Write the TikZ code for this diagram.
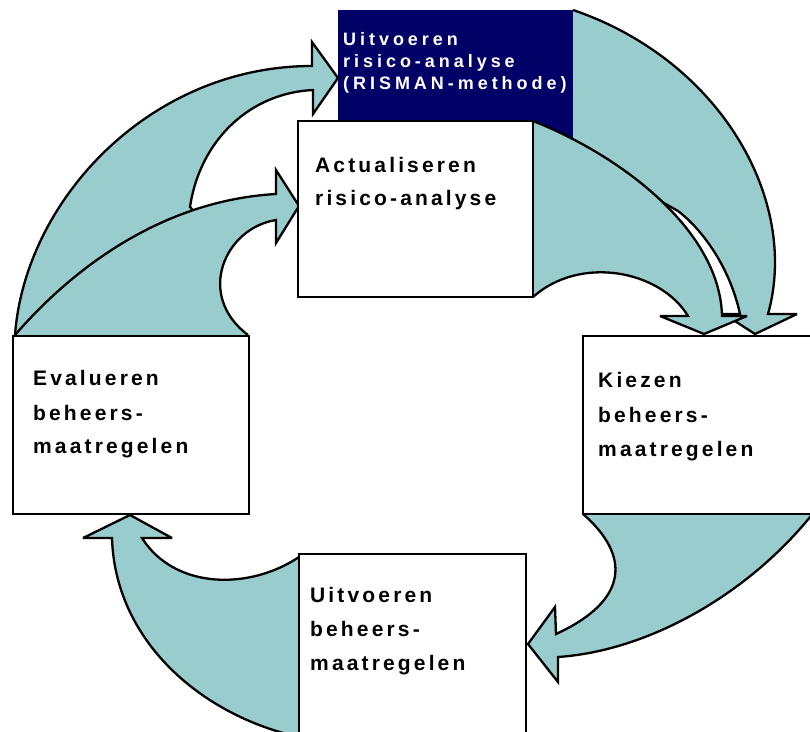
\documentclass[tikz,border=0pt]{standalone}
\usepackage{fontspec}
\setmainfont{Liberation Sans}[LetterSpace=15]
\newfontfamily\navyfont{Liberation Sans}[LetterSpace=22]
\definecolor{arrowteal}{HTML}{99CCCC}
\definecolor{risnavy}{HTML}{000066}
\begin{document}
\begin{tikzpicture}[x=1pt,y=-1pt,
  arrowshape/.style={fill=arrowteal,draw=black,line width=2.3pt,line join=miter,miter limit=4},
  whitebox/.style={draw=black,fill=white,line width=2.8pt,anchor=north west,inner sep=0pt,outer sep=0pt},
  navybox/.style={fill=risnavy,anchor=north west,inner sep=0pt,outer sep=0pt},
  lbl/.style={anchor=base west,inner sep=0pt,font=\fontsize{21}{23}\selectfont\bfseries},
  navylbl/.style={anchor=base west,inner sep=0pt,text=white,font=\navyfont\fontsize{18}{20}\selectfont\bfseries}]
\useasboundingbox (0,0) rectangle (810,731);
\fill[white] (0,0) rectangle (810,731);
\begin{scope}
\clip (0,0) rectangle (810,731);
% navy box (behind)
\node[navybox,minimum width=235,minimum height=132] (risman) at (338,10) {};
% arrow from navy box to Kiezen
\filldraw[arrowshape] (573,10) .. controls (720,60) and (800,200) .. (768,314)
  -- (797,314) -- (755,334) -- (724,314) -- (740,314)
  .. controls (730,268) and (703,230) .. (678,211) -- (620,178) -- (573,142);
% arrow from Actualiseren to Kiezen
\filldraw[arrowshape] (533,297) .. controls (580,255) and (660,270) .. (688,316)
  -- (660,316) -- (704,334) -- (747,316) -- (722,316)
  .. controls (720,230) and (620,155) .. (533,121);
% arrow from Evalueren to navy box
\filldraw[arrowshape] (15,335) .. controls (25,200) and (150,66) .. (312,66)
  -- (312,42) -- (338,78) -- (313,114) -- (313,90)
  .. controls (250,93) and (200,140) .. (190,207) -- (200,218);
% arrow from Evalueren to Actualiseren
\filldraw[arrowshape] (15,335) .. controls (80,260) and (170,200) .. (276,194)
  -- (276,170) -- (299,206) -- (276,243) -- (276,220)
  .. controls (225,228) and (195,295) .. (248,335);
% arrow from Kiezen to Uitvoeren beheersmaatregelen
\filldraw[arrowshape] (583,514) .. controls (630,555) and (630,600) .. (556,634)
  -- (555,607) -- (528,644) -- (558,682) -- (558,657)
  .. controls (660,650) and (770,580) .. (830,490) -- (830,514);
% arrow from Uitvoeren beheersmaatregelen to Evalueren
\filldraw[arrowshape] (299,557) .. controls (250,590) and (175,590) .. (142,538)
  -- (172,538) -- (130,515) -- (83,538) -- (112,538)
  .. controls (115,640) and (200,715) .. (299,737);
% white boxes
\node[whitebox,minimum width=235,minimum height=176] (act) at (298,121) {};
\node[whitebox,minimum width=236,minimum height=178] (eval) at (13,336) {};
\node[whitebox,minimum width=247,minimum height=178] (kiez) at (583,336) {};
\node[whitebox,minimum width=227,minimum height=196] (uitb) at (299,554) {};
\end{scope}
% labels
\node[navylbl] (ris1) at (343,45) {Uitvoeren};
\node[navylbl] (ris2) at (343,67) {risico-analyse};
\node[navylbl] (ris3) at (343,89) {(RISMAN-methode)};
\node[lbl] (act1) at (315,172) {Actualiseren};
\node[lbl] (act2) at (315,205) {risico-analyse};
\node[lbl] (ev1) at (33,385) {Evalueren};
\node[lbl] (ev2) at (33,420) {beheers-};
\node[lbl] (ev3) at (33,453) {maatregelen};
\node[lbl] (ki1) at (598,387) {Kiezen};
\node[lbl] (ki2) at (598,422) {beheers-};
\node[lbl] (ki3) at (598,456) {maatregelen};
\node[lbl] (ub1) at (310,602) {Uitvoeren};
\node[lbl] (ub2) at (310,636) {beheers-};
\node[lbl] (ub3) at (310,670) {maatregelen};
\end{tikzpicture}
\end{document}
